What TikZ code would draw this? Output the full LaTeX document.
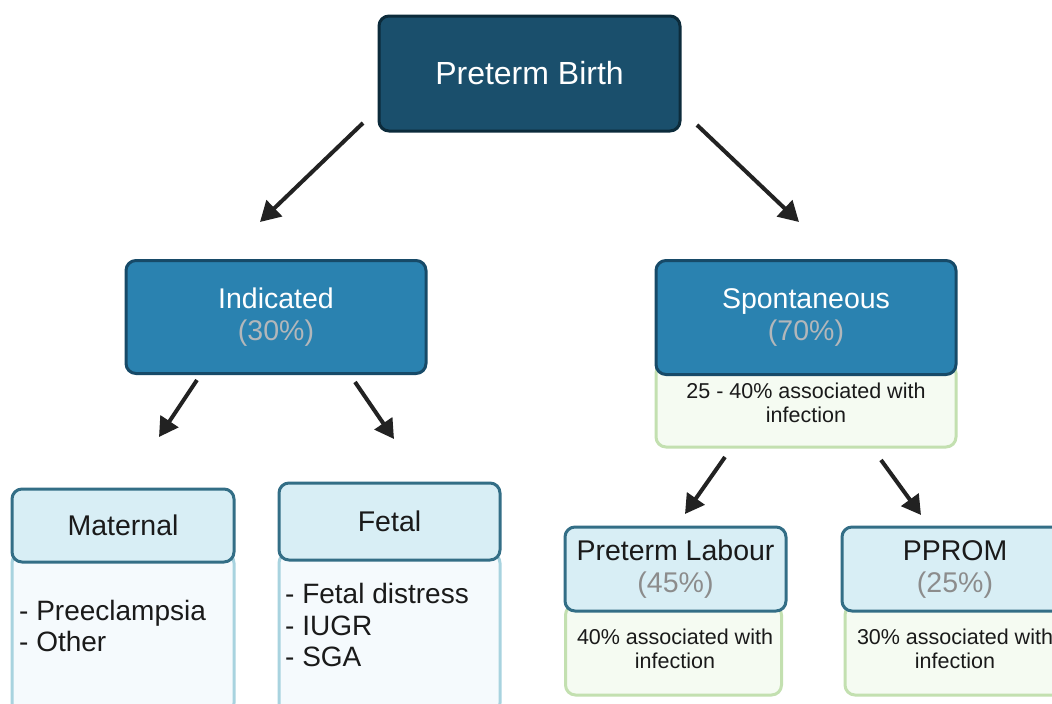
\documentclass[tikz,border=0pt]{standalone}
\usepackage{fontspec}
\setmainfont{Liberation Sans}
\usetikzlibrary{arrows.meta}
\definecolor{pbfill}{HTML}{1A4F6C}
\definecolor{pbdraw}{HTML}{0C2B3B}
\definecolor{midfill}{HTML}{2A82B0}
\definecolor{middraw}{HTML}{174A68}
\definecolor{headfill}{HTML}{D8EEF5}
\definecolor{headdraw}{HTML}{336E86}
\definecolor{bodyfill}{HTML}{F5FAFD}
\definecolor{bodydraw}{HTML}{A8D3DF}
\definecolor{greenfill}{HTML}{F5FBF2}
\definecolor{greendraw}{HTML}{C3E0B0}
\definecolor{pctlight}{HTML}{B3B7BA}
\definecolor{pctdark}{HTML}{8C8C8C}
\definecolor{txt}{HTML}{1A1A1A}
\definecolor{arrc}{HTML}{222222}
\newcommand\fTitle{\fontsize{32}{36}\selectfont}
\newcommand\fHead{\fontsize{28.5}{32}\selectfont}
\newcommand\fList{\fontsize{28}{31.5}\selectfont}
\newcommand\fInfo{\fontsize{21.5}{24.5}\selectfont}
\begin{document}
\begin{tikzpicture}[x=1pt,y=-1pt,
  box/.style={rectangle, rounded corners=10pt, line width=3pt, inner sep=0pt, align=center},
  dark/.style={box, fill=pbfill, draw=pbdraw, text=white, font=\fTitle},
  mid/.style={box, fill=midfill, draw=middraw, text=white, font=\fHead},
  head/.style={box, fill=headfill, draw=headdraw, text=txt, font=\fHead},
  bodyb/.style={box, fill=bodyfill, draw=bodydraw},
  bodyg/.style={box, fill=greenfill, draw=greendraw, text=txt, font=\fInfo},
  listtxt/.style={anchor=west, inner sep=0pt, align=left, text=txt, font=\fList},
  infotxt/.style={inner sep=0pt, align=center, text=txt, font=\fInfo},
  arr/.style={draw=arrc, line width=4pt, -{Triangle[length=20pt,width=22pt]}},
  sarr/.style={draw=arrc, line width=4pt, -{Triangle[length=19pt,width=21pt]}}
]
\useasboundingbox (0,0) rectangle (1052,704);
\fill[white] (0,0) rectangle (1052,704);
\clip (0,0) rectangle (1052,704);

% top
\node[dark, minimum width=301pt, minimum height=115pt] (pb) at (529.5,73.5) {Preterm Birth};

% level 2
\node[mid, minimum width=300pt, minimum height=113pt] (ind) at (276,317)
  {Indicated\\{\color{pctlight}(30\%)}};
\node[bodyg, minimum width=300pt, minimum height=84pt] (spobody) at (806,405) {};
\node[mid, minimum width=300pt, minimum height=114pt] (spo) at (806,317.5)
  {Spontaneous\\{\color{pctlight}(70\%)}};
\node[infotxt] (spoinfo) at (806,403) {25 - 40\% associated with\\infection};

% maternal
\node[bodyb, minimum width=222pt, minimum height=160pt] (matbody) at (123,633) {};
\node[head, minimum width=222pt, minimum height=73pt] (mat) at (123,525.5) {Maternal};
\node[listtxt] (matlist) at (19,626) {- Preeclampsia\\- Other};

% fetal
\node[bodyb, minimum width=221pt, minimum height=160pt] (fetbody) at (389.5,633) {};
\node[head, minimum width=221pt, minimum height=77pt] (fet) at (389.5,521.5) {Fetal};
\node[listtxt] (fetlist) at (285,625) {- Fetal distress\\- IUGR\\- SGA};

% preterm labour
\node[bodyg, minimum width=216pt, minimum height=90pt] (plbody) at (673.5,650) {};
\node[head, minimum width=221pt, minimum height=84pt] (pl) at (675.5,569)
  {Preterm Labour\\{\color{pctdark}(45\%)}};
\node[infotxt] (plinfo) at (675,649) {40\% associated with\\infection};

% PPROM
\node[bodyg, minimum width=220pt, minimum height=90pt] (ppbody) at (955,650) {};
\node[head, minimum width=226pt, minimum height=84pt] (pp) at (955,569)
  {PPROM\\{\color{pctdark}(25\%)}};
\node[infotxt] (ppinfo) at (955,649) {30\% associated with\\infection};

% connectors
\coordinate (a1s) at (363,123); \coordinate (a1e) at (260,222);
\coordinate (a2s) at (697,125); \coordinate (a2e) at (799,222);
\coordinate (a3s) at (197,380); \coordinate (a3e) at (159,437);
\coordinate (a4s) at (355,382); \coordinate (a4e) at (394,439);
\coordinate (a5s) at (725,457); \coordinate (a5e) at (685,514);
\coordinate (a6s) at (881,460); \coordinate (a6e) at (921,515);
\draw[arr] (a1s) -- (a1e);
\draw[arr] (a2s) -- (a2e);
\draw[sarr] (a3s) -- (a3e);
\draw[sarr] (a4s) -- (a4e);
\draw[sarr] (a5s) -- (a5e);
\draw[sarr] (a6s) -- (a6e);
\end{tikzpicture}
\end{document}
